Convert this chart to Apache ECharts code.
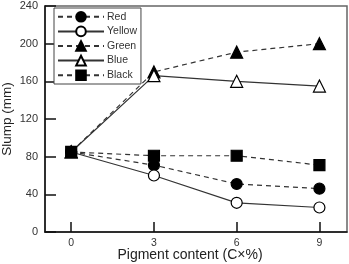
<!DOCTYPE html>
<html>
<head>
<meta charset="utf-8">
<script src="https://cdn.jsdelivr.net/npm/echarts@6/dist/echarts.min.js"></script>
<style>
html, body { margin: 0; padding: 0; background: #fff; }
#chart { width: 349px; height: 264px; }
</style>
</head>
<body>
<div id="chart"></div>
<script>
var pigment = [0, 3, 6, 9];
var red = [85, 71, 51, 46];
var yellow = [85, 60, 31, 26];
var green = [85, 170, 191, 200];
var blue = [85, 166, 160, 155];
var black = [85, 81, 81, 71];

function pairs(vals) {
    return pigment.map(function (x, i) { return [x, vals[i]]; });
}

function mk(name, vals, symbol, filled, dashed, size) {
    return {
        name: name,
        type: 'line',
        data: pairs(vals),
        symbol: symbol,
        symbolSize: size,
        showAllSymbol: true,
        lineStyle: { color: '#333', width: 1.2, type: dashed ? [5, 4] : 'solid' },
        itemStyle: { color: filled ? '#000' : '#fff', borderColor: '#000', borderWidth: 1.2 },
        emphasis: { disabled: true },
        z: 3
    };
}

var font = 'Liberation Sans, Arial, sans-serif';
var chart = echarts.init(document.getElementById('chart'));
chart.setOption({
    animation: false,
    textStyle: { fontFamily: font },
    grid: {
        left: 45, right: 2, top: 6, bottom: 32, outerBoundsMode: 'none',
        show: true, borderColor: '#666', borderWidth: 1.5
    },
    // axis titles
    graphic: [
        { type: 'text', x: 190, y: 255, style: { text: 'Pigment content (C\u00d7%)', font: '14px ' + font, fill: '#222', align: 'center', verticalAlign: 'middle' } },
        { type: 'text', x: 7, y: 119, rotation: Math.PI / 2, style: { text: 'Slump (mm)', font: '13.5px ' + font, fill: '#222', align: 'center', verticalAlign: 'middle' } }
    ],
    legend: {
        left: 54, top: 8, orient: 'vertical',
        itemWidth: 46, itemHeight: 12, itemGap: 3,
        padding: [3, 4, 3, 3],
        borderColor: '#444', borderWidth: 1, backgroundColor: '#fff',
        textStyle: { fontSize: 10.5, color: '#333', padding: [0, 0, 0, -2] },
        data: ['Red', 'Yellow', 'Green', 'Blue', 'Black']
    },
    xAxis: {
        type: 'value', min: -0.95, max: 10,
        axisLine: { onZero: false, lineStyle: { color: '#111', width: 1.5 } },
        axisTick: { inside: true, length: 10, customValues: pigment, lineStyle: { color: '#111', width: 1.5 } },
        axisLabel: { customValues: pigment, fontSize: 10.5, color: '#333', margin: 6 },
        splitLine: { show: false }
    },
    yAxis: {
        type: 'value', min: 0, max: 240, interval: 40,
        axisLine: { show: true, onZero: false, lineStyle: { color: '#111', width: 1.5 } },
        axisTick: { inside: true, length: 11, lineStyle: { color: '#111', width: 1.5 } },
        axisLabel: { fontSize: 11, color: '#333', margin: 7 },
        splitLine: { show: false }
    },
    series: [
        mk('Red', red, 'circle', true, true, 11),
        mk('Yellow', yellow, 'circle', false, false, 11),
        mk('Green', green, 'triangle', true, true, 12),
        mk('Blue', blue, 'triangle', false, false, 12),
        mk('Black', black, 'rect', true, true, 11)
    ]
});
</script>
</body>
</html>
